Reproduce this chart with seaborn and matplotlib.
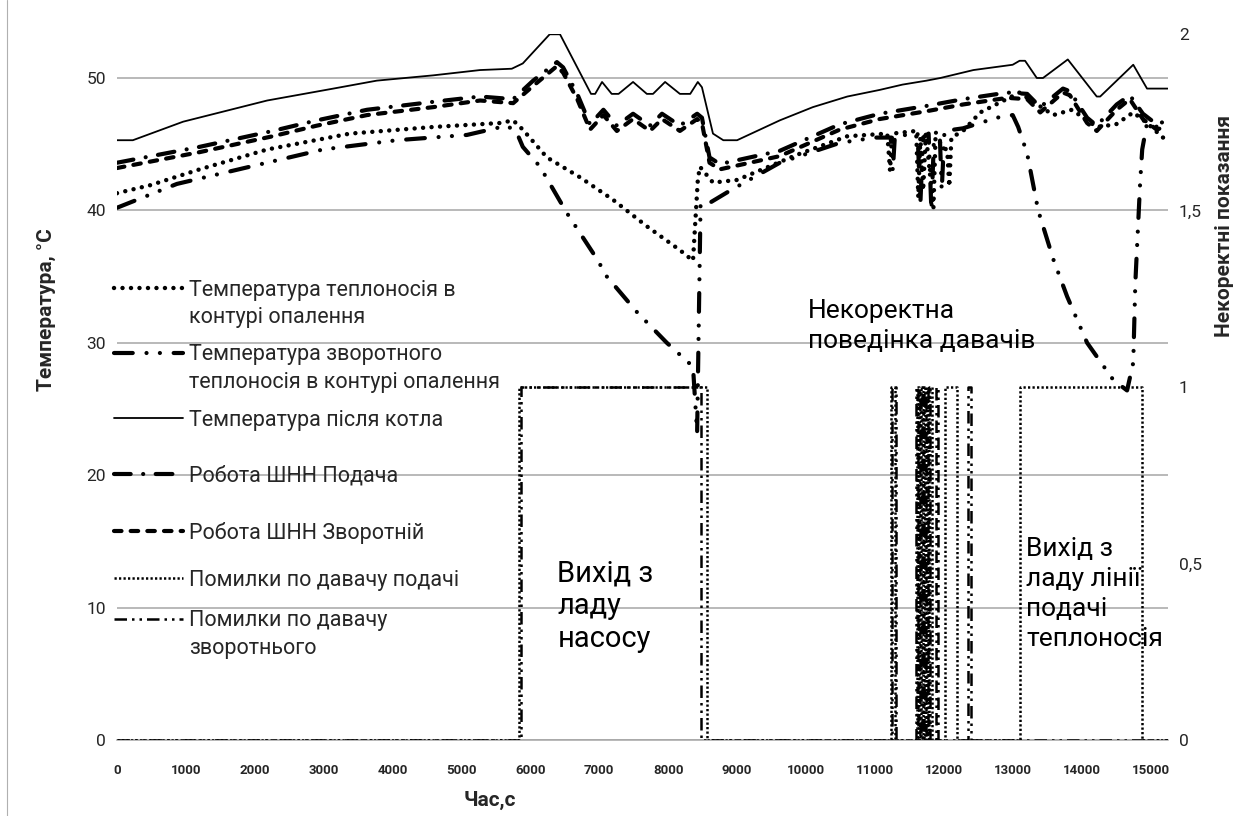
import matplotlib
matplotlib.use("Agg")
import matplotlib.pyplot as plt
from matplotlib.lines import Line2D
from matplotlib.legend import Legend
import seaborn as sns

# ---------------------------------------------------------------- data
T_END = 15250

# temperature after the boiler, °C
boiler_t = [0, 230, 960, 2180, 3140, 3770, 4590, 5270, 5730, 5890, 6280, 6430,
            6880, 6940, 7040, 7180, 7280, 7490, 7690, 7780, 7955, 8170, 8320,
            8430, 8490, 8650, 8800, 9000, 9620, 10100, 10600, 11070, 11400,
            11750, 11950, 12430, 13000, 13100, 13180, 13350, 13440, 13800,
            14220, 14270, 14750, 14950, 15250]
boiler_v = [45.3, 45.3, 46.7, 48.3, 49.2, 49.8, 50.2, 50.6, 50.7, 51.1, 53.3, 53.3,
            48.8, 48.8, 49.7, 48.8, 48.8, 49.7, 48.8, 48.8, 49.7, 48.8, 48.8,
            49.7, 49.3, 45.8, 45.3, 45.3, 46.8, 47.8, 48.6, 49.1, 49.5,
            49.8, 50.0, 50.6, 51.0, 51.3, 51.3, 50.0, 50.0, 51.4,
            48.6, 48.6, 51.0, 49.2, 49.2]

# heating-circuit supply temperature, °C
supply_t = [0, 480, 1200, 2180, 3380, 4590, 5560, 5750, 5890, 6240, 6720, 7200,
            7690, 8170, 8360, 8430, 8460, 8650, 9000, 9870, 10600, 11180, 11220,
            11250, 11600, 11630, 11660, 11700, 11740, 11850, 11880, 12050, 12080,
            12110, 12280, 12530, 13100, 13300, 13590, 13860, 14220, 14500, 14750,
            14950, 15180, 15250]
supply_v = [41.3, 41.9, 43.1, 44.6, 45.8, 46.3, 46.6, 46.8, 46.1, 44.0, 42.5, 40.8,
            38.8, 37.0, 36.2, 42.3, 43.3, 42.1, 42.3, 44.2, 45.6, 45.8, 43.0,
            45.8, 46.0, 41.0, 45.5, 41.5, 45.8, 40.2, 45.5, 44.5, 41.8,
            45.5, 46.0, 47.4, 48.9, 48.2, 47.2, 47.6, 46.3, 46.5, 47.4,
            46.6, 45.5, 45.6]

# heating-circuit return temperature, °C
return_t = [0, 870, 1930, 2990, 4060, 5080, 5660, 5800, 5890, 6140, 6530, 6970,
            7110, 7550, 7980, 8360, 8420, 8470, 8580, 8900, 9620, 10490, 11000,
            11230, 11260, 11290, 11620, 11660, 11700, 11780, 11820, 11860, 11940,
            11970, 12010, 12280, 12770, 13000, 13080, 13210, 13370, 13590, 13790,
            14080, 14460, 14660, 14750, 14780, 14850, 14880, 14950, 15250]
return_v = [40.2, 42.0, 43.3, 44.6, 45.3, 45.7, 46.4, 45.9, 44.8, 43.3, 39.8, 36.3,
            35.0, 32.3, 30.0, 28.2, 23.2, 40.5, 40.5, 41.5, 43.6, 45.1, 45.5,
            45.5, 43.0, 45.6, 45.8, 40.5, 45.5, 45.8, 40.0, 45.8, 46.0,
            41.5, 46.0, 46.2, 47.0, 47.2, 46.3, 44.3, 40.0, 36.3, 33.5,
            30.0, 27.2, 26.4, 28.5, 34.5, 42.1, 44.6, 46.6, 46.0]

# ШНН supply-side reading, °C
pump_sup_t = [0, 1200, 2260, 2900, 3630, 4590, 5270, 5750, 6040, 6385, 6475, 6680,
              6865, 7060, 7255, 7490, 7735, 7910, 8170, 8420, 8490, 8600, 8750,
              9620, 10490, 11070, 11760, 12280, 12920, 13210, 13400, 13730, 13830,
              14080, 14220, 14510, 14700, 14890, 15090, 15250]
pump_sup_v = [43.6, 44.8, 46.0, 46.8, 47.6, 48.2, 48.6, 48.4, 49.8, 51.2, 50.8, 48.8,
              46.5, 47.6, 46.4, 47.3, 46.4, 47.3, 46.4, 47.3, 47.0, 44.0, 43.5,
              44.5, 46.5, 47.3, 47.9, 48.4, 48.9, 48.8, 47.8, 49.2, 49.0,
              47.0, 46.4, 48.0, 48.7, 47.3, 46.5, 46.8]

# ШНН return-side reading, °C
pump_ret_t = [0, 1200, 2260, 2900, 3630, 4590, 5270, 5750, 6040, 6385, 6475, 6680,
              6865, 7060, 7255, 7490, 7735, 7910, 8170, 8420, 8490, 8600, 8750,
              9620, 10490, 11070, 11760, 12280, 12920, 13210, 13400, 13730, 13830,
              14080, 14220, 14510, 14700, 14890, 15090, 15250]
pump_ret_v = [43.2, 44.4, 45.6, 46.4, 47.2, 47.8, 48.3, 48.1, 49.4, 50.9, 50.4, 48.4,
              46.1, 47.2, 46.0, 46.9, 46.0, 46.9, 46.0, 46.9, 46.6, 43.6, 43.1,
              44.1, 46.1, 46.9, 47.5, 48.0, 48.5, 48.4, 47.4, 48.9, 48.7,
              46.6, 46.0, 47.6, 48.4, 46.9, 46.1, 46.4]

# sensor fault flags (1 = fault): switch-on / switch-off times, s
err_sup_on = [5840, 11240, 11610, 11670, 11730, 11790, 12020, 13110]
err_sup_off = [8560, 11290, 11640, 11700, 11760, 11830, 12190, 14870]
err_ret_on = [5860, 11250, 11590, 11650, 11710, 11770, 11880, 12350]
err_ret_off = [8470, 11300, 11620, 11680, 11740, 11800, 11920, 12400]

x_ticks = list(range(0, 15001, 1000))
left_ticks = [0, 10, 20, 30, 40, 50]
right_ticks = [0, 0.5, 1, 1.5, 2]
right_tick_labels = ["0", "0,5", "1", "1,5", "2"]

legend_labels = [
    ["Температура теплоносія в", "контурі опалення"],
    ["Температура зворотного", "теплоносія в контурі опалення"],
    ["Температура після котла"],
    ["Робота ШНН Подача"],
    ["Робота ШНН Зворотній"],
    ["Помилки по давачу подачі"],
    ["Помилки по давачу", "зворотнього"],
]


def pulses(on, off):
    t, v = [0], [0]
    for a, b in zip(on, off):
        t += [a, a, b, b]
        v += [0, 1, 1, 0]
    t.append(T_END)
    v.append(0)
    return t, v


# ---------------------------------------------------------------- figure
sns.set_theme(style="white")
plt.rcParams["font.family"] = ["Roboto", "DejaVu Sans"]

fig = plt.figure(figsize=(12.49, 8.16), dpi=100)
fig.patch.set_facecolor("white")
ax = fig.add_axes([117 / 1249, 76 / 816, 1050.7 / 1249, 705.7 / 816])
ax2 = ax.twinx()

common = dict(estimator=None, sort=False, color="black", legend=False)


def draw(axis, t, v, **kw):
    sns.lineplot(x=t, y=v, ax=axis, **common, **kw)
    return axis.lines[-1]


l_supply = draw(ax, supply_t, supply_v, linewidth=3.2,
                linestyle=(0, (0.01, 1.9)), dash_capstyle="round")
l_return = draw(ax, return_t, return_v, linewidth=3.0,
                linestyle=(0, (4.5, 3.3, 0.01, 3.2, 0.01, 3.3)),
                dash_capstyle="round")
l_boiler = draw(ax, boiler_t, boiler_v, linewidth=1.3, linestyle="-")
l_pump_sup = draw(ax, pump_sup_t, pump_sup_v, linewidth=3.0,
                  linestyle=(0, (4.0, 3.0, 0.01, 3.0)), dash_capstyle="round")
l_pump_ret = draw(ax, pump_ret_t, pump_ret_v, linewidth=3.0,
                  linestyle=(0, (1.8, 2.2)), dash_capstyle="round")

es_t, es_v = pulses(err_sup_on, err_sup_off)
er_t, er_v = pulses(err_ret_on, err_ret_off)
l_err_sup = draw(ax2, es_t, es_v, linewidth=1.8, linestyle=(0, (0.9, 0.9)))
l_err_ret = draw(ax2, er_t, er_v, linewidth=1.8,
                 linestyle=(0, (5, 2, 1, 2, 1, 2)))

# axes ranges, ticks, grid
ax.set_xlim(0, T_END)
ax.set_ylim(0, 53.3)
ax2.set_ylim(0, 2)
ax.set_xticks(x_ticks)
ax.set_xticklabels([str(v) for v in x_ticks], fontsize=9.5, fontweight="bold")
ax.set_yticks(left_ticks)
ax.set_yticklabels([str(v) for v in left_ticks], fontsize=12.5)
ax2.set_yticks(right_ticks)
ax2.set_yticklabels(right_tick_labels, fontsize=12.5)
ax.tick_params(axis="x", length=0, pad=17)
ax.tick_params(axis="y", length=0, pad=8)
ax2.tick_params(axis="y", length=0, pad=8)

ax.grid(False)
ax2.grid(False)
ax.yaxis.grid(True, color="#a6a6a6", linewidth=1.1)
for side in ("top", "left", "right"):
    ax.spines[side].set_visible(False)
    ax2.spines[side].set_visible(False)
ax.spines["bottom"].set_color("#a6a6a6")
ax.spines["bottom"].set_linewidth(1.1)
ax2.spines["bottom"].set_visible(False)

ax.set_xlabel("Час,с", fontsize=15, fontweight="bold")
ax.xaxis.set_label_coords(0.355, -0.072)
ax.set_ylabel("Температура, °C", fontsize=15, fontweight="bold")
ax.yaxis.set_label_coords(-0.058, 0.61)
ax2.set_ylabel("Некоректні показання", fontsize=15, fontweight="bold")
ax2.yaxis.set_label_coords(1.045, 0.728)

# legend: one block per series, stacked down the left side
handles = [l_supply, l_return, l_boiler, l_pump_sup, l_pump_ret, l_err_sup, l_err_ret]
tops = [0.652, 0.561, 0.468, 0.389, 0.309, 0.241, 0.184]
for h, lab, top in zip(handles, legend_labels, tops):
    hs = [h] + [Line2D([], [], linestyle="none")] * (len(lab) - 1)
    leg = Legend(ax2, hs, lab, loc="upper left", bbox_to_anchor=(-0.003, top),
                 bbox_transform=ax.transAxes, frameon=False, fontsize=15.5,
                 handlelength=3.2, handletextpad=0.3, labelspacing=0.3,
                 borderpad=0, borderaxespad=0)
    ax2.add_artist(leg)

# event annotations
note_kw = dict(va="top", ha="left", color="black")
ax.text(6390, 13.6, "Вихід з\nладу\nнасосу", fontsize=21, linespacing=1.2, **note_kw)
ax.text(10025, 33.3, "Некоректна\nповедінка давачів", fontsize=19,
        linespacing=1.3, **note_kw)
ax.text(13200, 15.3, "Вихід з\nладу лінії\nподачі\nтеплоносія", fontsize=19,
        linespacing=1.3, **note_kw)

# page edge rule on the left
fig.add_artist(Line2D([7 / 1249, 7 / 1249], [0, 1], color="#b0b0b0",
                      linewidth=0.8, transform=fig.transFigure))

fig.savefig("out.png", dpi=100)
